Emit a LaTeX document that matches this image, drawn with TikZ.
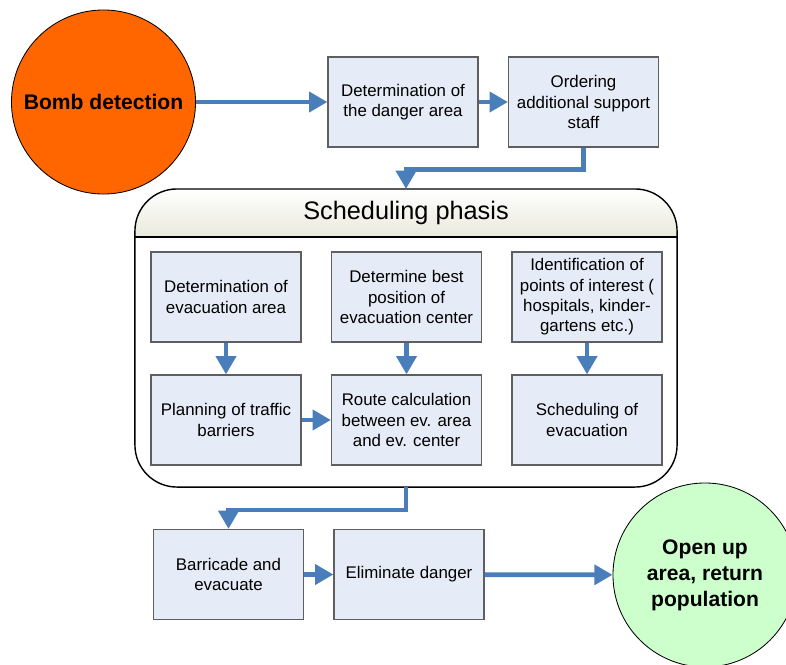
\documentclass[tikz,border=0pt]{standalone}
\usepackage{fontspec}
\setmainfont{Liberation Sans}
\usetikzlibrary{arrows.meta,positioning}
\definecolor{boxfill}{HTML}{E6ECF7}
\definecolor{boxline}{HTML}{5F5F5F}
\definecolor{flowblue}{HTML}{4A7EBB}
\definecolor{bombred}{HTML}{FF6600}
\definecolor{opengreen}{HTML}{CCFFCC}
\definecolor{headfill}{HTML}{E9E9DC}
\tikzset{every picture/.style={line width=0.5pt}}
\tikzstyle{task}=[rectangle,draw=boxline,fill=boxfill,line width=0.8pt,minimum width=3.75cm,minimum height=2.25cm,align=center,inner sep=2pt,font=\fontsize{12}{14.5}\selectfont]
\tikzstyle{event}=[circle,draw=black,line width=0.6pt,minimum size=4.6cm,align=center,inner sep=0pt,font=\bfseries\fontsize{15}{18.5}\selectfont]
\tikzstyle{phase}=[rectangle,draw=black,line width=1pt,rounded corners=1.05cm,minimum width=13.55cm,minimum height=7.45cm,outer sep=0pt]
\tikzstyle{flow}=[color=flowblue,line width=3.4pt,-{Triangle[length=13pt,width=14pt]}]

\begin{document}
\begin{tikzpicture}[x=0.025cm,y=-0.025cm]
\useasboundingbox (0,0) rectangle (786,664);
\node[event,fill=bombred] (bomb) at (103.5,102) {Bomb detection};
\node[event,fill=opengreen] (open) at (705,575) {Open up\\area, return\\population};
\node[task] (area) at (403,102) {Determination of\\the danger area};
\node[task] (staff) at (583.5,102) {Ordering\\additional support\\staff};
% scheduling phase
\begin{scope}
\clip[rounded corners=1.05cm] (135,189) rectangle (677,487);
\shade[top color=white,bottom color=headfill] (135,189) rectangle (677,237);
\end{scope}
\draw[line width=0.8pt] (135,237) -- (677,237);
\node[phase] (phase) at (406,338) {};
\node[font=\fontsize{18}{20}\selectfont] (title) at (406,213) {Scheduling phasis};
\node[task] (evac) at (226,297) {Determination of\\evacuation area};
\node[task] (center) at (406.5,297) {Determine best\\position of\\evacuation center};
\node[task] (poi) at (587,297) {Identification of\\points of interest (\\hospitals, kinder-\\gartens etc.)};
\node[task] (traffic) at (226,420) {Planning of traffic\\barriers};
\node[task] (route) at (406.5,420) {Route calculation\\between ev. area\\and ev. center};
\node[task] (sched) at (587,420) {Scheduling of\\evacuation};
% execution
\node[task] (barricade) at (228.5,574.5) {Barricade and\\evacuate};
\node[task] (danger) at (409,574.5) {Eliminate danger};
\path[flow]
(bomb) edge (area)
(area) edge (staff)
(evac) edge (traffic)
(center) edge (route)
(poi) edge (sched)
(traffic) edge (route)
(barricade) edge (danger)
(danger) edge (open);
\draw[flow] (staff.south) -- ++(0,22) -| (phase.north);
\draw[flow] (phase.south) -- ++(0,23) -| (barricade.north);
\end{tikzpicture}
\end{document}
